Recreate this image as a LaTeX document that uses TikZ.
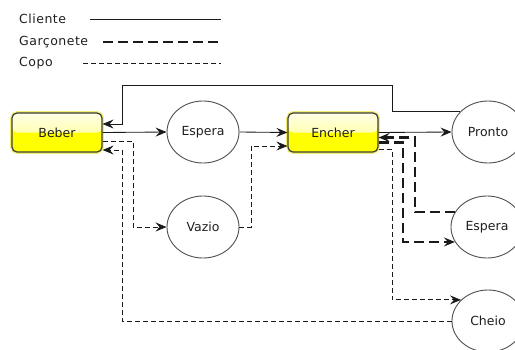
\documentclass[tikz,border=0pt]{standalone}
\usepackage{fontspec}
\setmainfont{DejaVu Sans}
\usetikzlibrary{shapes.geometric,arrows.meta,calc}

\definecolor{inkline}{HTML}{1A1A1A}
\definecolor{ringgray}{HTML}{505050}
\definecolor{boxedge}{HTML}{3C3C3C}
\definecolor{glow}{HTML}{F2EE70}
\definecolor{paleyel}{HTML}{FFFFE6}
\definecolor{midyel}{HTML}{FFFF80}
\definecolor{fullyel}{HTML}{FFFF00}

\tikzset{
  every node/.style={font=\fontsize{12.5}{15}\selectfont, text=black!88},
  tip/.style={-{Stealth[length=11pt,width=9pt,inset=4pt]}},
  cliente/.style={draw=inkline, line width=0.85pt},
  garcon/.style={draw=inkline, line width=2.6pt, dash pattern=on 10pt off 5pt},
  copo/.style={draw=inkline, line width=0.85pt, dash pattern=on 5pt off 3pt},
  procbox/.style={rectangle, rounded corners=5pt, minimum width=90pt,
    minimum height=39pt, inner sep=0pt, draw=boxedge, line width=1.2pt,
    fill=fullyel,
    preaction={draw=glow, line width=3.6pt},
    path picture={
      \fill[top color=paleyel, bottom color=midyel]
        (path picture bounding box.north west) rectangle
        (path picture bounding box.east);
    }},
  state/.style={ellipse, minimum width=72pt, minimum height=62pt,
    inner sep=0pt, draw=ringgray, line width=0.9pt, fill=white},
  legtext/.style={anchor=west, inner sep=0pt,
    font=\fontsize{12.5}{15}\selectfont\addfontfeature{LetterSpace=4}},
}

\begin{document}
\begin{tikzpicture}[x=1pt, y=-1pt]
  \useasboundingbox (0,0) rectangle (515,349);
  \clip (0,0) rectangle (515,349);

  % legend
  \node[legtext] (lcli) at (19,19) {Cliente};
  \node[legtext] (lgar) at (19,42) {Garçonete};
  \node[legtext] (lcop) at (19,63) {Copo};
  \coordinate (lcliA) at (90,19);  \coordinate (lcliB) at (221,19);
  \coordinate (lgarA) at (103,42); \coordinate (lgarB) at (221,42);
  \coordinate (lcopA) at (83,63);  \coordinate (lcopB) at (221,63);
  \draw[cliente] (lcliA) -- (lcliB);
  \draw[garcon] (lgarA) -- (lgarB);
  \draw[copo] (lcopA) -- (lcopB);

  % states and activities
  \node[procbox] (beber)  at (57,132.5)  {Beber};
  \node[procbox] (encher) at (333,132.5) {Encher};
  \node[state] (espera1) at (203,132) {Espera};
  \node[state] (vazio)   at (203,227) {Vazio};
  \node[state] (pronto)  at (488,132) {Pronto};
  \node[state] (espera2) at (487,227) {Espera};
  \node[state] (cheio)   at (488,321) {Cheio};

  % routing columns
  \coordinate (topY)  at (0,85);
  \coordinate (colA)  at (122,0);
  \coordinate (colB)  at (133,0);
  \coordinate (colC)  at (251,0);
  \coordinate (colD)  at (392,0);
  \coordinate (colE)  at (403,0);
  \coordinate (colF)  at (415,0);

  % Cliente
  \draw[cliente,tip] (beber.east) -- (espera1.west);
  \draw[cliente,tip] (espera1.east) -- (encher.west);
  \draw[cliente,tip] (encher.east) -- (pronto.west);
  \draw[cliente,tip] (pronto.144) -| (colD |- topY) -| (colA |- 0,124)
    -- (beber.east |- 0,124);

  % Garconete
  \draw[garcon,tip] (espera2.155) -| (colF |- 0,137.5) -- (encher.east |- 0,137.5);
  \draw[garcon,tip] (encher.east |- 0,142.5) -| (colE |- espera2.205) -- (espera2.205);

  % Copo
  \draw[copo,tip] (beber.east |- 0,141) -| (colB |- vazio.west) -- (vazio.west);
  \draw[copo,tip] (vazio.east) -| (colC |- 0,146) -- (encher.west |- 0,146);
  \draw[copo,tip] (encher.east |- 0,149) -| (colD |- cheio.142) -- (cheio.142);
  \draw[copo,tip] (cheio.west) -| (colA |- 0,150) -- (beber.east |- 0,150);
\end{tikzpicture}
\end{document}
